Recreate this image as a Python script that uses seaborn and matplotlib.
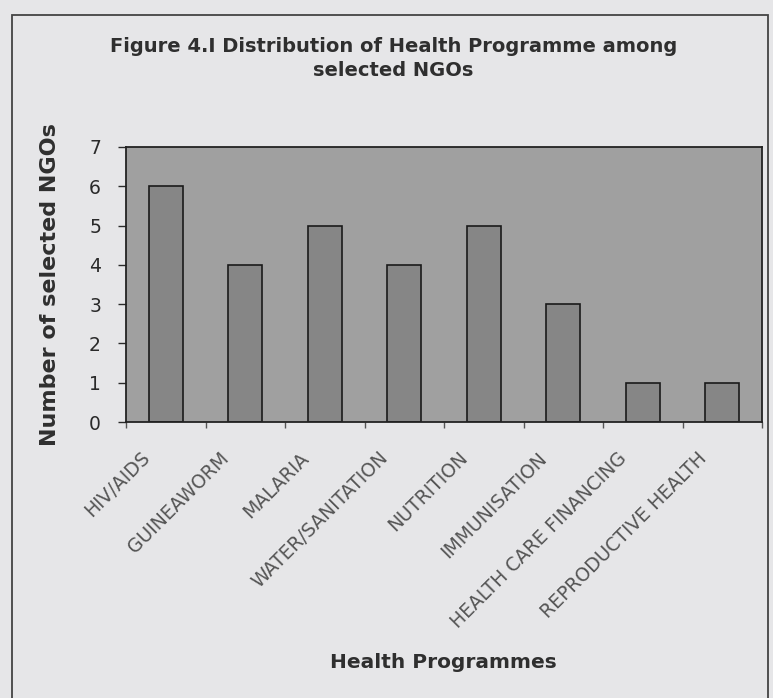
import matplotlib
matplotlib.use("Agg")
import matplotlib.pyplot as plt
import matplotlib.transforms as mtransforms
import seaborn as sns
import pandas as pd
from matplotlib.patches import Rectangle

programmes = ["HIV/AIDS", "GUINEAWORM", "MALARIA", "WATER/SANITATION",
              "NUTRITION", "IMMUNISATION", "HEALTH CARE FINANCING",
              "REPRODUCTIVE HEALTH"]
ngo_counts = [6, 4, 5, 4, 5, 3, 1, 1]

df = pd.DataFrame({"programme": programmes, "count": ngo_counts})

sns.set_style("white")
plt.rcParams["font.family"] = ["DejaVu Sans"]

fig = plt.figure(figsize=(7.73, 6.98), dpi=100)
fig.patch.set_facecolor("#e6e6e8")

# scanned page frame
fig.patches.append(Rectangle((12 / 773, -0.01), (768 - 12) / 773, (698 - 15) / 698 + 0.01,
                             transform=fig.transFigure, fill=False,
                             edgecolor="#444444", linewidth=1.3))

ax = fig.add_axes([126 / 773, (698 - 422) / 698, (762 - 126) / 773, (422 - 147) / 698])
ax.set_facecolor("#a0a0a0")

sns.barplot(data=df, x="programme", y="count", ax=ax, color="#868686",
            saturation=1, width=0.43, edgecolor="#1a1a1a", linewidth=1.2)

ax.set_xlim(-0.5, len(programmes) - 0.5)
ax.set_ylim(0, 7)
ax.set_yticks(range(0, 8))
ax.tick_params(axis="y", labelsize=13.5, colors="#2a2a2a", length=6, width=1,
               direction="out", left=True, pad=12)

# Excel style: tick marks between categories, labels under the bars
ax.set_xticks(range(len(programmes)))
ax.set_xticks([i - 0.5 for i in range(len(programmes) + 1)], minor=True)
ax.tick_params(axis="x", which="major", length=0, pad=0)
ax.tick_params(axis="x", which="minor", length=4, width=1, bottom=True,
               direction="out", color="#555555")
ax.set_xticklabels(programmes, rotation=45, ha="right", va="center",
                   rotation_mode="anchor", fontsize=13.5, color="#555555")
shift = mtransforms.ScaledTranslation(-19 / 100, -33 / 100, fig.dpi_scale_trans)
for lab in ax.get_xticklabels():
    lab.set_transform(lab.get_transform() + shift)

for s in ax.spines.values():
    s.set_color("#222222")
    s.set_linewidth(1.3)

ax.set_xlabel("")
ax.set_ylabel("")
fig.text(50 / 773, 1 - 285 / 698, "Number of selected NGOs", rotation=90,
         ha="center", va="center", fontsize=16, fontweight="bold", color="#2f2f2f")
fig.text(443 / 773, 1 - 662 / 698, "Health Programmes", ha="center", va="center",
         fontsize=14.5, fontweight="bold", color="#2f2f2f")

fig.text(394 / 773, 1 - 47 / 698, "Figure 4.I Distribution of Health Programme among",
         ha="center", va="center", fontsize=14, fontweight="bold", color="#2f2f2f")
fig.text(393 / 773, 1 - 70 / 698, "selected NGOs",
         ha="center", va="center", fontsize=14, fontweight="bold", color="#2f2f2f")

fig.savefig("out.png", dpi=100, facecolor=fig.get_facecolor())
